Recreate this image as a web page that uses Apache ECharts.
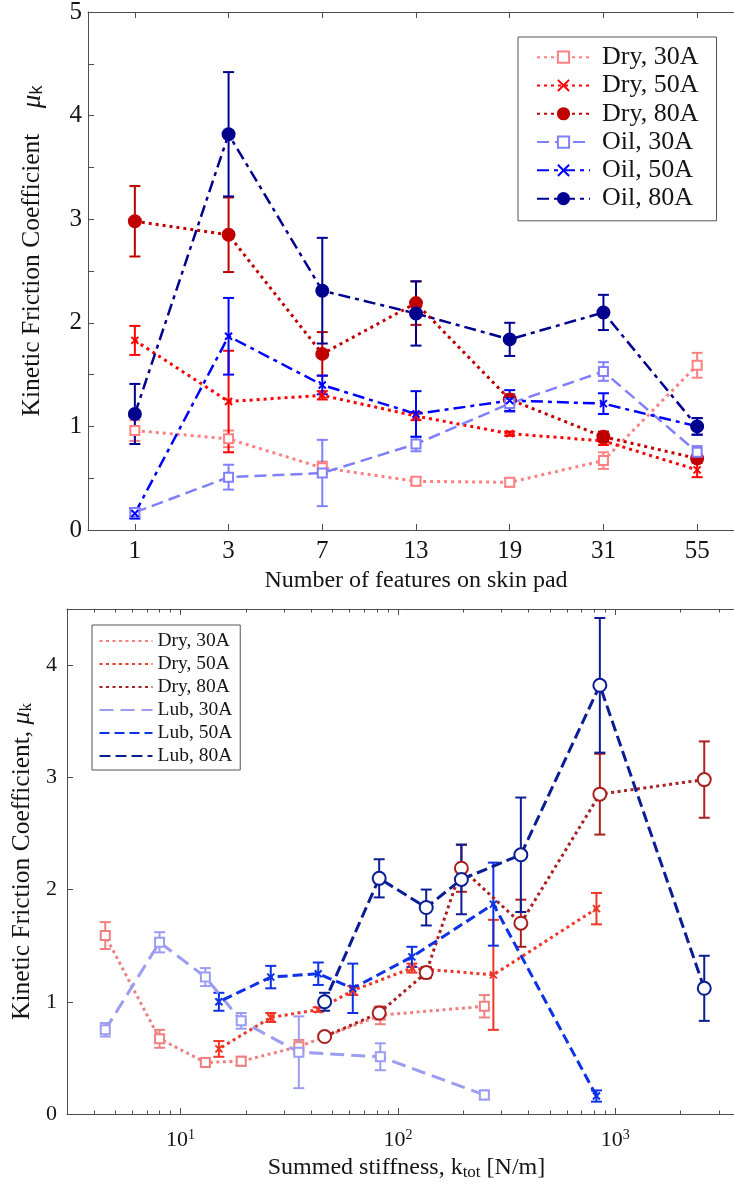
<!DOCTYPE html>
<html>
<head>
<meta charset="utf-8">
<script src="https://cdn.jsdelivr.net/npm/echarts@6/dist/echarts.min.js"></script>
<style>
  html, body { margin: 0; padding: 0; background: #fff; }
  #top { position: absolute; left: 0; top: 0; width: 734px; height: 592px; }
  #bottom { position: absolute; left: 0; top: 592px; width: 734px; height: 596px; }
</style>
</head>
<body>
<div id="top"></div>
<div id="bottom"></div>
<script>
// Skin pads: number of features (top chart categories)
const featureLabels = ['1', '3', '7', '13', '19', '31', '55'];

// Mean kinetic friction coefficient and its error, in featureLabels order
const dry30    = [0.96, 0.88, 0.60, 0.47, 0.46, 0.67, 1.59];
const dry30Err = [0.10, 0.08, 0.06, 0.04, 0.04, 0.08, 0.12];
const dry50    = [1.83, 1.24, 1.30, 1.10, 0.93, 0.86, 0.58];
const dry50Err = [0.14, 0.49, 0.04, 0.04, 0.02, 0.04, 0.07];
const dry80    = [2.98, 2.85, 1.70, 2.19, 1.26, 0.90, 0.69];
const dry80Err = [0.34, 0.36, 0.21, 0.21, 0.05, 0.05, 0.03];
const oil30    = [0.17, 0.51, 0.55, 0.83, 1.22, 1.53, 0.75];
const oil30Err = [0.04, 0.12, 0.32, 0.07, 0.08, 0.09, 0.06];
const oil50    = [0.16, 1.87, 1.40, 1.12, 1.25, 1.22, 1.00];
const oil50Err = [0.05, 0.37, 0.09, 0.22, 0.10, 0.10, 0.08];
const oil80    = [1.12, 3.82, 2.31, 2.09, 1.84, 2.10, 1.00];
const oil80Err = [0.29, 0.60, 0.51, 0.31, 0.16, 0.17, 0.08];

// Summed stiffness k_tot [N/m] of each pad, in featureLabels order
const stiff30 = [250, 83, 35, 19, 13, 8.0, 4.5];
const stiff50 = [820, 275, 116, 62, 43, 26, 15];
const stiff80 = [2570, 850, 368, 196, 135, 82, 46];

// Tick values
const topYTicks = [0, 1, 2, 3, 4, 5];
const bottomYTicks = [0, 1, 2, 3, 4];
const logMajorTicks = [10, 100, 1000];
const logMinorTicks = [3, 4, 5, 6, 7, 8, 9, 20, 30, 40, 50, 60, 70, 80, 90,
  200, 300, 400, 500, 600, 700, 800, 900, 2000, 3000, 4000];

const SERIF = '"Liberation Serif", "Times New Roman", serif';
const AXIS_COLOR = '#4d4d4d';
const TEXT_COLOR = '#151515';
const CROSS = 'path://M0,0L10,10M10,0L0,10';

// Vertical error bar with caps, drawn through the axis scales
function errorBarRender(color) {
  return function (params, api) {
    const x = api.value(0), y = api.value(1), e = api.value(2);
    const lo = api.coord([x, y - e]);
    const hi = api.coord([x, y + e]);
    const cap = 5.5;
    const style = { stroke: color, lineWidth: 2 };
    return {
      type: 'group',
      children: [
        { type: 'line', shape: { x1: lo[0], y1: lo[1], x2: hi[0], y2: hi[1] }, style },
        { type: 'line', shape: { x1: lo[0] - cap, y1: lo[1], x2: lo[0] + cap, y2: lo[1] }, style },
        { type: 'line', shape: { x1: hi[0] - cap, y1: hi[1], x2: hi[0] + cap, y2: hi[1] }, style }
      ]
    };
  };
}

function buildSeries(defs, xOf) {
  const out = [];
  defs.forEach(function (d) {
    const pts = d.y.map(function (v, i) { return [xOf(d, i), v]; });
    const errs = d.y.map(function (v, i) { return [xOf(d, i), v, d.e[i]]; });
    out.push({
      type: 'custom',
      name: d.name + ' error',
      xAxisIndex: 0, yAxisIndex: 0,
      renderItem: errorBarRender(d.color),
      data: errs,
      encode: { x: 0, y: 1 },
      silent: true, z: 2
    });
    out.push({
      type: 'line',
      name: d.name,
      xAxisIndex: 0, yAxisIndex: 0,
      data: pts,
      symbol: d.symbol,
      symbolSize: d.size,
      showSymbol: true,
      lineStyle: { color: d.color, width: d.width, type: d.dash },
      itemStyle: { color: d.color, borderColor: d.color, borderWidth: 2 },
      emphasis: { disabled: true },
      silent: true, z: 3
    });
  });
  return out;
}

/* ---------- Friction vs. number of features ---------- */
const topDefs = [
  { name: 'Dry, 30A', y: dry30, e: dry30Err, color: '#ff8080', symbol: 'emptyRect', size: 9, width: 3, dash: [3, 4] },
  { name: 'Dry, 50A', y: dry50, e: dry50Err, color: '#ff0000', symbol: CROSS, size: 7, width: 3, dash: [3, 4] },
  { name: 'Dry, 80A', y: dry80, e: dry80Err, color: '#c00000', symbol: 'circle', size: 12, width: 3, dash: [3, 4] },
  { name: 'Oil, 30A', y: oil30, e: oil30Err, color: '#8080ff', symbol: 'emptyRect', size: 9, width: 2.5, dash: [12, 6] },
  { name: 'Oil, 50A', y: oil50, e: oil50Err, color: '#0000ff', symbol: CROSS, size: 7, width: 2.5, dash: [12, 5, 4, 5] },
  { name: 'Oil, 80A', y: oil80, e: oil80Err, color: '#00008f', symbol: 'circle', size: 12, width: 2.5, dash: [12, 5, 4, 5] }
];

const featureTickPos = featureLabels.map(function (_, i) { return i + 1; });

function topXAxis(position, showLabels) {
  return {
    type: 'value', min: 0.5, max: 7.5, position: position,
    axisLine: { show: true, onZero: false, lineStyle: { color: AXIS_COLOR, width: 1 } },
    axisTick: { show: true, inside: true, length: 6, customValues: featureTickPos, lineStyle: { color: AXIS_COLOR } },
    axisLabel: {
      show: showLabels, customValues: featureTickPos, margin: 9,
      fontFamily: SERIF, fontSize: 25, color: TEXT_COLOR,
      formatter: function (v) { return featureLabels[Math.round(v) - 1]; }
    },
    splitLine: { show: false }
  };
}

const topX = topXAxis('bottom', true);
topX.name = 'Number of features on skin pad';
topX.nameLocation = 'middle';
topX.nameGap = 35;
topX.nameTextStyle = { fontFamily: SERIF, fontSize: 24, color: TEXT_COLOR };

const topChart = echarts.init(document.getElementById('top'), null, { renderer: 'canvas' });
topChart.setOption({
  animation: false,
  backgroundColor: '#fff',
  grid: { left: 88, right: -10, top: 12, bottom: 62, containLabel: false, outerBoundsMode: 'none' },
  legend: {
    orient: 'vertical', left: 518, top: 37,
    itemWidth: 53, itemHeight: 14, itemGap: 0,
    padding: [6, 18, 8, 18],
    borderColor: '#555', borderWidth: 1, backgroundColor: '#fff',
    selectedMode: false,
    textStyle: { fontFamily: SERIF, fontSize: 26, color: TEXT_COLOR, lineHeight: 28.3, padding: [0, 0, 0, 7] },
    data: topDefs.map(function (d) { return d.name; })
  },
  xAxis: [topX, topXAxis('top', false)],
  yAxis: [{
    type: 'value', min: 0, max: 5, interval: 0.5,
    axisLine: { show: true, lineStyle: { color: AXIS_COLOR, width: 1 } },
    axisTick: { show: true, inside: true, length: 6, lineStyle: { color: AXIS_COLOR } },
    axisLabel: {
      margin: 6, fontFamily: SERIF, fontSize: 25, color: TEXT_COLOR,
      formatter: function (v) { return topYTicks.indexOf(v) >= 0 ? String(v) : ''; }
    },
    splitLine: { show: false },
    name: 'Kinetic Friction Coefficient    {mu|μ}{sub|k}',
    nameLocation: 'middle', nameRotate: 90, nameGap: 42,
    nameTextStyle: {
      fontFamily: SERIF, fontSize: 25.5, color: TEXT_COLOR,
      padding: [0, 0, 0, 40],
      rich: {
        mu: { fontFamily: SERIF, fontSize: 27, fontStyle: 'italic', color: TEXT_COLOR },
        sub: { fontFamily: '"Liberation Sans", Arial, sans-serif', fontSize: 18, color: TEXT_COLOR, verticalAlign: 'bottom', padding: [9, 0, 0, 0] }
      }
    }
  }],
  series: buildSeries(topDefs, function (d, i) { return i + 1; })
});

/* ---------- Friction vs. summed stiffness ---------- */
const bottomDefs = [
  { name: 'Dry, 30A', y: dry30, e: dry30Err, k: stiff30, color: '#f08080', symbol: 'emptyRect', size: 9, width: 3, dash: [3, 3.5] },
  { name: 'Dry, 50A', y: dry50, e: dry50Err, k: stiff50, color: '#ee3526', symbol: CROSS, size: 7, width: 3, dash: [3, 3.5] },
  { name: 'Dry, 80A', y: dry80, e: dry80Err, k: stiff80, color: '#a8201f', symbol: 'emptyCircle', size: 13, width: 3, dash: [3, 3.5] },
  { name: 'Lub, 30A', y: oil30, e: oil30Err, k: stiff30, color: '#9b9cf2', symbol: 'emptyRect', size: 9, width: 3, dash: [14, 7] },
  { name: 'Lub, 50A', y: oil50, e: oil50Err, k: stiff50, color: '#0c31e6', symbol: CROSS, size: 7, width: 3, dash: [10, 5] },
  { name: 'Lub, 80A', y: oil80, e: oil80Err, k: stiff80, color: '#0a1d95', symbol: 'emptyCircle', size: 13, width: 3, dash: [11, 5] }
];

function logAxis(position, ticks, tickLen, showLine, showLabels) {
  return {
    type: 'log', logBase: 10, min: 3, max: 4000, position: position,
    axisLine: { show: showLine, onZero: false, lineStyle: { color: AXIS_COLOR, width: 1 } },
    axisTick: { show: true, inside: true, length: tickLen, customValues: ticks, lineStyle: { color: AXIS_COLOR } },
    axisLabel: {
      show: showLabels, customValues: logMajorTicks, margin: 14,
      formatter: function (v) { return '{b|10}{sup|' + Math.round(Math.log10(v)) + '}'; },
      rich: {
        b: { fontFamily: SERIF, fontSize: 22, color: TEXT_COLOR },
        sup: { fontFamily: SERIF, fontSize: 14, color: TEXT_COLOR, verticalAlign: 'top', padding: [0, 0, 10, 0] }
      }
    },
    splitLine: { show: false }
  };
}

const bottomX = logAxis('bottom', logMajorTicks, 6, true, true);
bottomX.name = 'Summed stiffness, k{sub|tot} [N/m]';
bottomX.nameLocation = 'middle';
bottomX.nameGap = 39;
bottomX.nameTextStyle = {
  fontFamily: SERIF, fontSize: 24, color: TEXT_COLOR,
  rich: { sub: { fontFamily: SERIF, fontSize: 17, color: TEXT_COLOR, verticalAlign: 'bottom', padding: [10, 0, 0, 0] } }
};

const bottomChart = echarts.init(document.getElementById('bottom'), null, { renderer: 'canvas' });
bottomChart.setOption({
  animation: false,
  backgroundColor: '#fff',
  grid: { left: 67, right: -12, top: 17, bottom: 74, containLabel: false, outerBoundsMode: 'none' },
  legend: {
    orient: 'vertical', left: 92, top: 33,
    itemWidth: 53, itemHeight: 12, itemGap: 0,
    padding: [4.5, 8, 2.5, 6.5],
    borderColor: '#555', borderWidth: 1, backgroundColor: '#fff',
    selectedMode: false,
    itemStyle: { opacity: 0 },
    textStyle: { fontFamily: SERIF, fontSize: 19.5, color: TEXT_COLOR, lineHeight: 23 },
    data: bottomDefs.map(function (d) { return d.name; })
  },
  xAxis: [
    bottomX,
    logAxis('bottom', logMinorTicks, 3.5, false, false),
    logAxis('top', logMajorTicks, 6, true, false),
    logAxis('top', logMinorTicks, 3.5, false, false)
  ],
  yAxis: [{
    type: 'value', min: 0, max: 4.5,
    axisLine: { show: true, lineStyle: { color: AXIS_COLOR, width: 1 } },
    axisTick: { show: true, inside: true, length: 6, customValues: bottomYTicks, lineStyle: { color: AXIS_COLOR } },
    axisLabel: { customValues: bottomYTicks, margin: 10, fontFamily: SERIF, fontSize: 22, color: TEXT_COLOR },
    splitLine: { show: false },
    name: 'Kinetic Friction Coefficient, {mu|μ}{sub|k}',
    nameLocation: 'middle', nameRotate: 90, nameGap: 20,
    nameTextStyle: {
      fontFamily: SERIF, fontSize: 25.5, color: TEXT_COLOR,
      rich: {
        mu: { fontFamily: SERIF, fontSize: 25.5, fontStyle: 'italic', color: TEXT_COLOR },
        sub: { fontFamily: SERIF, fontSize: 17, color: TEXT_COLOR, verticalAlign: 'bottom', padding: [9, 0, 0, 0] }
      }
    }
  }],
  series: buildSeries(bottomDefs, function (d, i) { return d.k[i]; })
});
</script>
</body>
</html>
